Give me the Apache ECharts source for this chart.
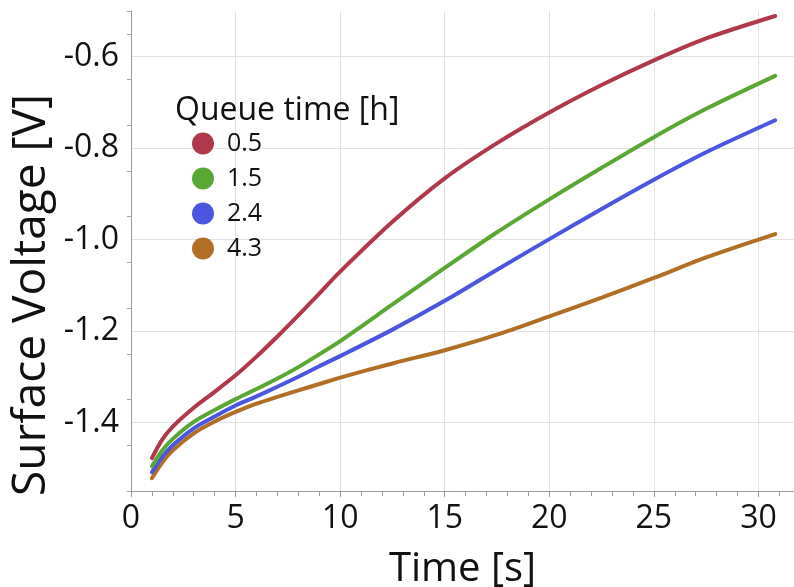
<!DOCTYPE html>
<html>
<head>
<meta charset="utf-8">
<script src="https://cdn.jsdelivr.net/npm/echarts@6/dist/echarts.min.js"></script>
<style>
  html, body { margin: 0; padding: 0; background: #ffffff; }
  #chart { width: 794px; height: 587px; }
</style>
</head>
<body>
<div id="chart"></div>
<script>
// Surface voltage decay curves for several queue times
const timeS = [1, 1.5, 2, 3, 4, 5, 6, 7, 8, 9, 10, 12.5, 15, 17.5, 20, 22.5, 25, 27.5, 30.8];
const queueLabels = ['0.5', '1.5', '2.4', '4.3'];
const v05 = [-1.478, -1.437, -1.409, -1.368, -1.333, -1.297, -1.256, -1.212, -1.166, -1.118, -1.070, -0.961, -0.866, -0.789, -0.722, -0.662, -0.608, -0.560, -0.511];
const v15 = [-1.496, -1.461, -1.436, -1.399, -1.373, -1.349, -1.327, -1.304, -1.279, -1.251, -1.222, -1.142, -1.062, -0.984, -0.912, -0.843, -0.776, -0.714, -0.642];
const v24 = [-1.509, -1.475, -1.450, -1.413, -1.387, -1.363, -1.343, -1.322, -1.300, -1.277, -1.255, -1.197, -1.134, -1.066, -0.999, -0.933, -0.869, -0.809, -0.739];
const v43 = [-1.522, -1.487, -1.461, -1.424, -1.398, -1.377, -1.359, -1.344, -1.330, -1.316, -1.302, -1.271, -1.242, -1.208, -1.168, -1.127, -1.084, -1.039, -0.988];
const yTickValues = [-1.4, -1.2, -1.0, -0.8, -0.6];

const colors = ['#b0384a', '#5aa834', '#4a56e0', '#b36e26'];
const FONT = '"Open Sans", "Noto Sans", sans-serif';
const allValues = [v05, v15, v24, v43];

const chart = echarts.init(document.getElementById('chart'), null, { renderer: 'canvas' });

const series = queueLabels.map((name, i) => ({
  name: name,
  type: 'line',
  smooth: 0.3,
  showSymbol: false,
  symbol: 'circle',
  data: timeS.map((t, k) => [t, allValues[i][k]]),
  lineStyle: { width: 4, color: colors[i], cap: 'round' },
  itemStyle: { color: colors[i] },
  emphasis: { disabled: true },
  z: 10 - i
}));

chart.setOption({
  animation: false,
  backgroundColor: '#ffffff',
  title: {
    text: 'Queue time [h]',
    left: 170,
    top: 90,
    textStyle: { fontFamily: FONT, fontSize: 32, fontWeight: 'normal', color: '#111' }
  },
  legend: {
    orient: 'vertical',
    left: 187,
    top: 126,
    itemWidth: 22,
    itemHeight: 22,
    itemGap: 10,
    icon: 'circle',
    data: queueLabels,
    textStyle: { fontFamily: FONT, fontSize: 25, color: '#111', padding: [0, 0, 0, 8] }
  },
  graphic: [{
    type: 'text',
    x: 32,
    y: 295,
    rotation: Math.PI / 2,
    style: {
      text: 'Surface Voltage [V]',
      fontFamily: FONT,
      fontSize: 46,
      fill: '#111',
      align: 'center',
      verticalAlign: 'middle'
    }
  }],
  grid: { left: 131, right: 0, top: 11, bottom: 96, containLabel: false, outerBoundsMode: 'none' },
  xAxis: {
    type: 'value',
    min: 0,
    max: 31.7,
    interval: 5,
    name: 'Time [s]',
    nameLocation: 'middle',
    nameGap: 59,
    nameTextStyle: { fontFamily: FONT, fontSize: 40, color: '#111' },
    axisLine: { show: true, lineStyle: { color: '#9a9a9a', width: 1 } },
    axisTick: { show: true, inside: false, length: 6, lineStyle: { color: '#9a9a9a' } },
    minorTick: { show: true, splitNumber: 5, length: 5, lineStyle: { color: '#9a9a9a' } },
    axisLabel: {
      fontFamily: FONT, fontSize: 32, color: '#111', margin: 12,
      formatter: v => (v % 5 === 0 ? String(v) : '')
    },
    splitLine: { show: true, lineStyle: { color: '#e2e2e2', width: 1 } }
  },
  yAxis: [{
    type: 'value',
    min: -1.55,
    max: -0.5,
    axisLine: { show: true, lineStyle: { color: '#9a9a9a', width: 1 } },
    axisTick: { show: false, customValues: yTickValues },
    axisLabel: {
      customValues: yTickValues,
      fontFamily: FONT, fontSize: 32, color: '#111', margin: 12,
      formatter: v => v.toFixed(1)
    },
    splitLine: { show: true, lineStyle: { color: '#e2e2e2', width: 1 } }
  }, {
    type: 'value',
    position: 'left',
    min: -1.55,
    max: -0.5,
    interval: 0.1,
    axisLine: { show: false },
    axisTick: { show: true, length: 4, lineStyle: { color: '#a8a8a8' } },
    axisLabel: { show: false },
    splitLine: { show: false }
  }],
  series: series
});
</script>
</body>
</html>
